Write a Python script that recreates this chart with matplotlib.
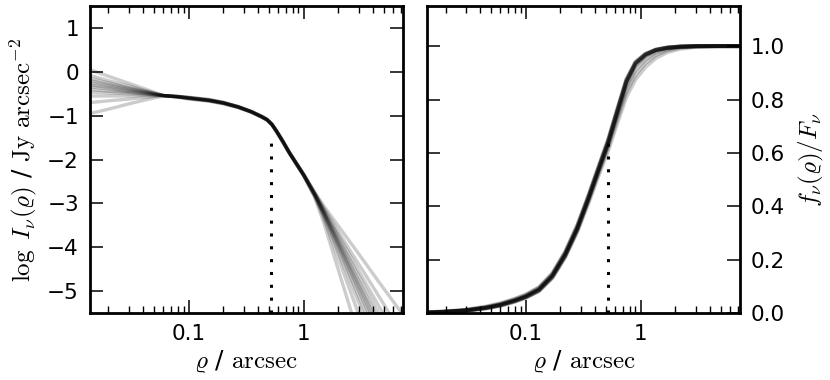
import numpy as np
import matplotlib
matplotlib.use("Agg")
import matplotlib.pyplot as plt
from matplotlib.ticker import FixedLocator, FixedFormatter, LogLocator, NullFormatter

plt.rcParams["mathtext.fontset"] = "cm"
plt.rcParams["font.family"] = ["DejaVu Sans"]

# radius grid for the surface brightness samples (arcsec)
rho_sb = [0.0138, 0.02, 0.03, 0.045, 0.06, 0.08, 0.1, 0.15, 0.2, 0.27, 0.35, 0.43, 0.48,
          0.53, 0.58, 0.65, 0.75, 1.0, 1.25, 1.5, 2.0, 2.6, 3.4, 4.4, 5.7, 7.3]

# log I_nu samples
log_sb_samples = [
    [0.05, -0.10, -0.26, -0.42, -0.54, -0.58, -0.62, -0.67, -0.73, -0.82, -0.92, -1.03, -1.10,
     -1.21, -1.36, -1.57, -1.85, -2.36, -2.80, -3.21, -3.88, -4.50, -5.12, -5.73, -6.34, -6.92],
    [-0.08, -0.20, -0.32, -0.45, -0.54, -0.57, -0.61, -0.66, -0.72, -0.81, -0.92, -1.02, -1.09,
     -1.20, -1.35, -1.56, -1.84, -2.34, -2.77, -3.14, -3.72, -4.24, -4.78, -5.29, -5.81, -6.30],
    [-0.15, -0.25, -0.36, -0.46, -0.54, -0.57, -0.60, -0.65, -0.71, -0.80, -0.91, -1.03, -1.10,
     -1.21, -1.36, -1.57, -1.85, -2.36, -2.82, -3.26, -4.02, -4.72, -5.43, -6.11, -6.80, -7.45],
    [-0.20, -0.29, -0.38, -0.47, -0.54, -0.56, -0.59, -0.64, -0.70, -0.79, -0.90, -1.01, -1.08,
     -1.19, -1.34, -1.55, -1.83, -2.33, -2.75, -3.06, -3.51, -3.92, -4.34, -4.75, -5.15, -5.54],
    [-0.25, -0.32, -0.40, -0.48, -0.54, -0.57, -0.60, -0.65, -0.71, -0.80, -0.91, -1.02, -1.09,
     -1.20, -1.35, -1.56, -1.84, -2.35, -2.80, -3.22, -3.92, -4.56, -5.21, -5.84, -6.47, -7.07],
    [-0.30, -0.36, -0.43, -0.49, -0.54, -0.57, -0.60, -0.65, -0.71, -0.80, -0.91, -1.02, -1.09,
     -1.20, -1.35, -1.56, -1.84, -2.35, -2.79, -3.19, -3.84, -4.43, -5.04, -5.62, -6.21, -6.76],
    [-0.34, -0.39, -0.45, -0.50, -0.54, -0.57, -0.60, -0.66, -0.72, -0.81, -0.92, -1.03, -1.10,
     -1.21, -1.37, -1.58, -1.86, -2.37, -2.84, -3.35, -4.25, -5.07, -5.90, -6.71, -7.52, -8.30],
    [-0.40, -0.44, -0.47, -0.51, -0.54, -0.57, -0.60, -0.65, -0.71, -0.80, -0.90, -1.01, -1.08,
     -1.19, -1.34, -1.55, -1.83, -2.34, -2.78, -3.17, -3.78, -4.34, -4.91, -5.46, -6.01, -6.53],
    [-0.46, -0.48, -0.50, -0.52, -0.54, -0.56, -0.59, -0.65, -0.71, -0.80, -0.91, -1.02, -1.09,
     -1.20, -1.35, -1.56, -1.84, -2.35, -2.81, -3.24, -3.96, -4.62, -5.30, -5.95, -6.60, -7.22],
    [-0.55, -0.55, -0.55, -0.54, -0.54, -0.56, -0.59, -0.64, -0.70, -0.80, -0.91, -1.02, -1.09,
     -1.20, -1.35, -1.56, -1.85, -2.36, -2.83, -3.29, -4.11, -4.85, -5.60, -6.33, -7.06, -7.76],
    [-0.70, -0.66, -0.62, -0.57, -0.54, -0.56, -0.58, -0.63, -0.69, -0.79, -0.90, -1.01, -1.08,
     -1.19, -1.34, -1.55, -1.83, -2.33, -2.76, -3.11, -3.64, -4.12, -4.60, -5.07, -5.55, -6.00],
    [-0.95, -0.85, -0.73, -0.62, -0.55, -0.56, -0.58, -0.63, -0.70, -0.80, -0.91, -1.03, -1.10,
     -1.21, -1.37, -1.58, -1.86, -2.37, -2.87, -3.45, -4.51, -5.48, -6.47, -7.42, -8.38, -9.29],
]

# radius grid for the growth curve samples (arcsec)
rho_cum = [0.0138, 0.02, 0.03, 0.045, 0.06, 0.08, 0.1, 0.13, 0.17, 0.22, 0.28, 0.35, 0.43,
           0.52, 0.62, 0.75, 0.9, 1.1, 1.35, 1.7, 2.2, 3.0, 4.5, 7.3]

# f_nu(rho)/F_nu samples
frac_samples = [
    [0.002, 0.005, 0.010, 0.020, 0.031, 0.047, 0.062, 0.088, 0.140, 0.220, 0.318, 0.430,
     0.540, 0.640, 0.750, 0.868, 0.935, 0.968, 0.985, 0.994, 0.998, 1.0, 1.0, 1.0],
    [0.003, 0.007, 0.013, 0.025, 0.037, 0.054, 0.070, 0.097, 0.150, 0.231, 0.330, 0.442,
     0.552, 0.652, 0.762, 0.878, 0.942, 0.972, 0.987, 0.995, 0.999, 1.0, 1.0, 1.0],
    [0.002, 0.006, 0.011, 0.022, 0.034, 0.050, 0.066, 0.093, 0.145, 0.226, 0.325, 0.437,
     0.547, 0.647, 0.757, 0.874, 0.940, 0.971, 0.987, 0.995, 0.999, 1.0, 1.0, 1.0],
    [0.002, 0.005, 0.010, 0.020, 0.031, 0.047, 0.063, 0.089, 0.141, 0.221, 0.319, 0.431,
     0.541, 0.641, 0.751, 0.869, 0.936, 0.969, 0.986, 0.994, 0.998, 1.0, 1.0, 1.0],
    [0.001, 0.004, 0.009, 0.018, 0.028, 0.044, 0.059, 0.084, 0.135, 0.214, 0.312, 0.424,
     0.534, 0.634, 0.744, 0.862, 0.931, 0.966, 0.984, 0.993, 0.998, 1.0, 1.0, 1.0],
    [0.001, 0.004, 0.008, 0.017, 0.027, 0.042, 0.057, 0.082, 0.132, 0.211, 0.309, 0.421,
     0.531, 0.631, 0.740, 0.856, 0.925, 0.961, 0.981, 0.992, 0.997, 0.999, 1.0, 1.0],
    [0.002, 0.005, 0.010, 0.020, 0.031, 0.047, 0.062, 0.088, 0.139, 0.218, 0.315, 0.425,
     0.533, 0.630, 0.735, 0.845, 0.910, 0.950, 0.975, 0.989, 0.996, 0.999, 1.0, 1.0],
    [0.002, 0.005, 0.010, 0.020, 0.030, 0.046, 0.061, 0.086, 0.137, 0.215, 0.311, 0.419,
     0.525, 0.620, 0.722, 0.828, 0.893, 0.937, 0.966, 0.984, 0.994, 0.998, 1.0, 1.0],
    [0.001, 0.004, 0.009, 0.019, 0.029, 0.044, 0.059, 0.083, 0.132, 0.209, 0.303, 0.410,
     0.515, 0.608, 0.707, 0.810, 0.875, 0.922, 0.955, 0.977, 0.990, 0.997, 1.0, 1.0],
    [0.003, 0.006, 0.012, 0.023, 0.035, 0.052, 0.068, 0.095, 0.147, 0.228, 0.326, 0.437,
     0.546, 0.645, 0.754, 0.870, 0.936, 0.968, 0.985, 0.994, 0.998, 1.0, 1.0, 1.0],
    [0.002, 0.005, 0.010, 0.019, 0.030, 0.046, 0.061, 0.087, 0.138, 0.218, 0.316, 0.428,
     0.538, 0.638, 0.748, 0.866, 0.934, 0.967, 0.985, 0.994, 0.998, 1.0, 1.0, 1.0],
    [0.002, 0.005, 0.011, 0.021, 0.032, 0.048, 0.064, 0.090, 0.142, 0.223, 0.321, 0.433,
     0.543, 0.643, 0.753, 0.870, 0.937, 0.969, 0.986, 0.994, 0.998, 1.0, 1.0, 1.0],
]

# half light radius marker
r_half = 0.52
sb_marker_top = -1.5
frac_marker_top = 0.65

xlim = (0.0138, 7.3)

fig = plt.figure(figsize=(8.3, 3.8), dpi=100)
ax1 = fig.add_axes([0.1084, 0.176, 0.377, 0.808])
ax2 = fig.add_axes([0.5145, 0.176, 0.377, 0.808])

for row in log_sb_samples:
    ax1.plot(rho_sb, row, color="black", lw=2.4, alpha=0.2, solid_capstyle="butt")
for row in frac_samples:
    ax2.plot(rho_cum, row, color="black", lw=2.8, alpha=0.2, solid_capstyle="butt")

ax1.plot([r_half, r_half], [-5.5, sb_marker_top], color="black", lw=2.2, ls=(0, (1, 3.2)))
ax2.plot([r_half, r_half], [0.0, frac_marker_top], color="black", lw=2.2, ls=(0, (1, 3.2)))

for ax in (ax1, ax2):
    ax.set_xscale("log")
    ax.set_xlim(*xlim)
    ax.xaxis.set_major_locator(FixedLocator([0.1, 1]))
    ax.xaxis.set_major_formatter(FixedFormatter(["0.1", "1"]))
    ax.xaxis.set_minor_locator(LogLocator(base=10, subs=np.arange(2, 10)))
    ax.xaxis.set_minor_formatter(NullFormatter())
    ax.tick_params(which="both", direction="in", top=True, bottom=True, left=True, right=True)
    ax.tick_params(which="major", length=9.5, width=1.1, labelsize=15.5, pad=8)
    ax.tick_params(which="minor", length=5, width=1.0)
    for sp in ax.spines.values():
        sp.set_linewidth(2.0)
    ax.set_xlabel(r"$\varrho$ / $\rm arcsec$", fontsize=18, labelpad=3)

ax1.set_ylim(-5.5, 1.5)
ax1.set_yticks([1, 0, -1, -2, -3, -4, -5])
ax1.set_yticklabels(["1", "0", "\u22121", "\u22122", "\u22123", "\u22124", "\u22125"])
ax1.set_ylabel(r"$\log\ I_\nu(\varrho)$ / $\rm Jy\ arcsec^{-2}$", fontsize=18, labelpad=6)

ax2.set_ylim(0, 1.15)
ax2.set_yticks([0.0, 0.2, 0.4, 0.6, 0.8, 1.0])
ax2.set_yticklabels(["0.0", "0.2", "0.4", "0.6", "0.8", "1.0"])
ax2.yaxis.tick_right()
ax2.tick_params(which="both", left=True, right=True, labelleft=False, labelright=True)
ax2.yaxis.set_label_position("right")
ax2.set_ylabel(r"$f_\nu(\varrho)/F_\nu$", fontsize=18, labelpad=8)

fig.savefig("out.png", dpi=100)
